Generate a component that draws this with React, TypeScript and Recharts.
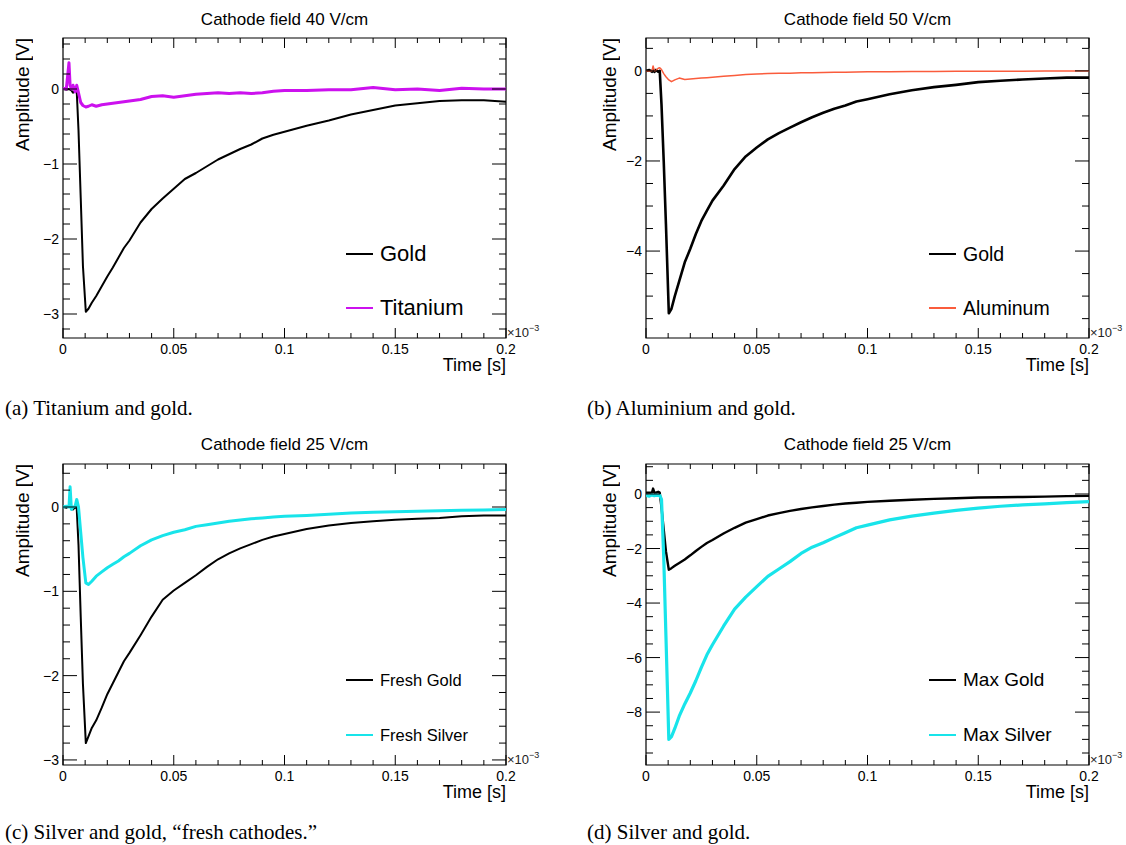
import { LineChart, Line, XAxis, YAxis, ReferenceArea, Legend } from 'recharts'

const SANS = '"Liberation Sans", Arial, Helvetica, sans-serif'
const SERIF = '"Liberation Serif", "Times New Roman", serif'

// time axis, in units of 1e-3 s (shared sampling for all four waveforms)
const TIME = [
  0, 0.0015, 0.0027, 0.0032, 0.0038, 0.0045, 0.0055, 0.0062,
  0.007, 0.008, 0.009, 0.0103, 0.0115, 0.013, 0.015, 0.0175, 0.02, 0.0225, 0.025, 0.0275, 0.03,
  0.035, 0.04, 0.045, 0.05, 0.055, 0.06, 0.065, 0.07, 0.075, 0.08, 0.085, 0.09, 0.095, 0.1,
  0.11, 0.12, 0.13, 0.14, 0.15, 0.16, 0.17, 0.18, 0.19, 0.2
]

// (a) 40 V/cm
const GOLD_A = [
  0, -0.01, 0, -0.01, -0.02, -0.05, -0.02, -0.03,
  -0.55, -1.45, -2.36, -2.97, -2.93, -2.85, -2.76, -2.63, -2.5, -2.38, -2.25, -2.12, -2.02,
  -1.78, -1.6, -1.46, -1.33, -1.2, -1.12, -1.03, -0.94, -0.87, -0.8, -0.74, -0.66, -0.61, -0.57,
  -0.49, -0.42, -0.34, -0.28, -0.22, -0.19, -0.16, -0.15, -0.15, -0.17
]
const TITANIUM_A = [
  0.01, 0, 0.35, 0.05, 0, 0.05, -0.04, 0.05,
  -0.05, -0.18, -0.22, -0.24, -0.23, -0.21, -0.23, -0.21, -0.2, -0.19, -0.18, -0.17, -0.16,
  -0.14, -0.1, -0.09, -0.11, -0.09, -0.07, -0.06, -0.05, -0.06, -0.05, -0.06, -0.05, -0.03, -0.02,
  -0.02, -0.01, -0.01, 0.02, -0.01, 0, -0.02, 0.01, 0, 0
]

// (b) 50 V/cm
const GOLD_B = [
  0, 0.02, -0.02, 0.03, -0.02, 0.02, -0.02, 0,
  -0.75, -2.0, -3.4, -5.38, -5.28, -5.0, -4.67, -4.25, -3.95, -3.62, -3.33, -3.1, -2.88,
  -2.55, -2.18, -1.9, -1.7, -1.52, -1.38, -1.26, -1.14, -1.03, -0.93, -0.84, -0.77, -0.68, -0.63,
  -0.52, -0.43, -0.36, -0.31, -0.25, -0.22, -0.19, -0.17, -0.15, -0.15
]
const ALUMINUM_B = [
  0, -0.01, 0, 0.11, 0, 0.01, 0.06, 0.07,
  0.03, -0.06, -0.13, -0.2, -0.24, -0.2, -0.16, -0.19, -0.18, -0.17, -0.16, -0.15, -0.14,
  -0.12, -0.1, -0.08, -0.07, -0.06, -0.05, -0.05, -0.04, -0.04, -0.035, -0.03, -0.03, -0.025, -0.02,
  -0.02, -0.015, -0.012, -0.01, -0.01, -0.008, -0.006, -0.005, -0.003, 0
]

// (c) 25 V/cm, fresh cathodes
const GOLD_C = [
  0, -0.01, 0.01, 0.02, -0.01, -0.03, 0, -0.02,
  -0.45, -1.3, -2.1, -2.8, -2.72, -2.62, -2.53, -2.38, -2.22, -2.09, -1.96, -1.83, -1.73,
  -1.52, -1.3, -1.1, -0.99, -0.9, -0.81, -0.71, -0.62, -0.55, -0.49, -0.44, -0.39, -0.35, -0.32,
  -0.26, -0.22, -0.19, -0.17, -0.15, -0.14, -0.13, -0.11, -0.1, -0.1
]
const SILVER_C = [
  0, 0.01, 0, 0.24, -0.03, 0, 0.01, 0.09,
  0, -0.3, -0.6, -0.9, -0.92, -0.88, -0.82, -0.77, -0.72, -0.68, -0.64, -0.59, -0.55,
  -0.46, -0.39, -0.34, -0.3, -0.27, -0.23, -0.21, -0.19, -0.17, -0.155, -0.14, -0.13, -0.12, -0.11,
  -0.1, -0.085, -0.07, -0.062, -0.055, -0.05, -0.045, -0.04, -0.035, -0.03
]

// (d) 25 V/cm, max
const GOLD_D = [
  0.05, 0.05, 0.05, 0.2, 0.05, 0.05, 0.08, 0.05,
  -0.5, -1.3, -2.1, -2.78, -2.72, -2.63, -2.53, -2.4, -2.25, -2.09, -1.94, -1.8, -1.69,
  -1.45, -1.24, -1.05, -0.92, -0.79, -0.7, -0.62, -0.55, -0.49, -0.44, -0.39, -0.35, -0.32, -0.29,
  -0.25, -0.21, -0.18, -0.155, -0.13, -0.12, -0.11, -0.095, -0.08, -0.07
]
const SILVER_D = [
  -0.05, -0.08, -0.03, -0.05, -0.06, -0.04, -0.05, -0.05,
  -0.2, -2.3, -5.2, -9.0, -8.9, -8.6, -8.15, -7.7, -7.3, -6.85, -6.36, -5.9, -5.53,
  -4.85, -4.22, -3.78, -3.4, -3.02, -2.75, -2.48, -2.18, -1.95, -1.79, -1.6, -1.42, -1.24, -1.14,
  -0.95, -0.81, -0.7, -0.6, -0.52, -0.45, -0.4, -0.36, -0.32, -0.28
]

const X_MAJOR = [0, 0.05, 0.1, 0.15, 0.2]
const X_MINOR_STEP = 0.01

// reserved sizes of the axis boxes (ticks are drawn by hand inside the frame)
const X_AXIS_H = 30
const Y_AXIS_W = 40

type Series = { name: string; values: number[]; color: string; width: number }
type Panel = {
  box: { x: number; y: number; w: number; h: number }
  frame: { l: number; t: number; r: number; b: number }
  yDomain: [number, number]
  yMajor: number[]
  yMinorStep: number
  title: string
  titleY: number
  yLabelX: number
  caption: string
  captionX: number
  captionY: number
  legend: { x: number; y: number; gap: number; size: number }
  series: Series[]
}

const PANELS: Panel[] = [
  {
    box: { x: 0, y: 0, w: 563, h: 422 },
    frame: { l: 63, t: 38, r: 506, b: 338 },
    yDomain: [-3.32, 0.68], yMajor: [-3, -2, -1, 0], yMinorStep: 0.2,
    title: 'Cathode field 40 V/cm', titleY: 20, yLabelX: 23,
    caption: '(a) Titanium and gold.', captionX: 5, captionY: 408,
    legend: { x: 346, y: 254, gap: 54, size: 22 },
    series: [
      { name: 'Gold', values: GOLD_A, color: '#000000', width: 2 },
      { name: 'Titanium', values: TITANIUM_A, color: '#cc11ee', width: 3 }
    ]
  },
  {
    box: { x: 563, y: 0, w: 563, h: 422 },
    frame: { l: 646, t: 38, r: 1089, b: 338 },
    yDomain: [-5.93, 0.73], yMajor: [-4, -2, 0], yMinorStep: 0.5,
    title: 'Cathode field 50 V/cm', titleY: 20, yLabelX: 610,
    caption: '(b) Aluminium and gold.', captionX: 587, captionY: 408,
    legend: { x: 929, y: 254, gap: 54, size: 19.5 },
    series: [
      { name: 'Gold', values: GOLD_B, color: '#000000', width: 2.6 },
      { name: 'Aluminum', values: ALUMINUM_B, color: '#fa5c3c', width: 1.5 }
    ]
  },
  {
    box: { x: 0, y: 422, w: 563, h: 423 },
    frame: { l: 63, t: 464, r: 506, b: 765 },
    yDomain: [-3.06, 0.51], yMajor: [-3, -2, -1, 0], yMinorStep: 0.2,
    title: 'Cathode field 25 V/cm', titleY: 445, yLabelX: 23,
    caption: '(c) Silver and gold, \u201cfresh cathodes.\u201d', captionX: 5, captionY: 832,
    legend: { x: 346, y: 680, gap: 55, size: 16.5 },
    series: [
      { name: 'Fresh Gold', values: GOLD_C, color: '#000000', width: 2 },
      { name: 'Fresh Silver', values: SILVER_C, color: '#18e4ea', width: 3 }
    ]
  },
  {
    box: { x: 563, y: 422, w: 563, h: 423 },
    frame: { l: 646, t: 464, r: 1089, b: 765 },
    yDomain: [-9.94, 1.1], yMajor: [-8, -6, -4, -2, 0], yMinorStep: 0.5,
    title: 'Cathode field 25 V/cm', titleY: 445, yLabelX: 610,
    caption: '(d) Silver and gold.', captionX: 587, captionY: 832,
    legend: { x: 929, y: 680, gap: 55, size: 19 },
    series: [
      { name: 'Max Gold', values: GOLD_D, color: '#000000', width: 2.4 },
      { name: 'Max Silver', values: SILVER_D, color: '#18e4ea', width: 3.2 }
    ]
  }
]

function steps(min: number, max: number, step: number) {
  const out: number[] = []
  for (let k = Math.ceil(min / step - 1e-9); k * step <= max + 1e-9; k++) {
    out.push(Math.round(k * step * 1e6) / 1e6)
  }
  return out
}

const isOn = (v: number, list: number[]) => list.some(m => Math.abs(m - v) < 1e-6)
const fmt = (v: number) => (v < 0 ? '\u2212' + Math.abs(v) : String(v))

function PanelChart({ p }: { p: Panel }) {
  const { box, frame } = p
  const fw = frame.r - frame.l
  const fh = frame.b - frame.t
  const data = TIME.map((t, i) => {
    const row: Record<string, number> = { t }
    p.series.forEach((s, k) => { row['s' + k] = s.values[i] })
    return row
  })
  const xTicks = steps(0, 0.2, X_MINOR_STEP)
  const yTicks = steps(p.yDomain[0], p.yDomain[1], p.yMinorStep)

  const xTick = (props: any) => {
    const { x, y, payload } = props
    const major = isOn(payload.value, X_MAJOR)
    const len = major ? 10 : 5
    return (
      <g>
        <line x1={x} x2={x} y1={y} y2={y - len} stroke="#000" />
        <line x1={x} x2={x} y1={y - fh} y2={y - fh + len} stroke="#000" />
        {major && (
          <text x={x} y={y + 11} textAnchor="middle" dominantBaseline="central"
            fontSize={14} fontFamily={SANS} fill="#000">{payload.value}</text>
        )}
      </g>
    )
  }

  const yTick = (props: any) => {
    const { x, y, payload } = props
    const major = isOn(payload.value, p.yMajor)
    const len = major ? 14 : 7
    return (
      <g>
        <line x1={x} x2={x + len} y1={y} y2={y} stroke="#000" />
        <line x1={x + fw} x2={x + fw - len} y1={y} y2={y} stroke="#000" />
        {major && (
          <text x={x - 4} y={y} textAnchor="end" dominantBaseline="central"
            fontSize={14} fontFamily={SANS} fill="#000">{fmt(payload.value)}</text>
        )}
      </g>
    )
  }

  const order = (name: string) => p.series.findIndex(s => s.name === name)
  const legend = (props: any) => {
    const items = [...(props.payload || [])].sort((a: any, b: any) => order(a.value) - order(b.value))
    return (
      <div style={{ fontFamily: SANS, fontSize: p.legend.size, color: '#000' }}>
        {items.map((e: any) => (
          <div key={e.value} style={{ display: 'flex', alignItems: 'center', height: p.legend.gap, whiteSpace: 'nowrap' }}>
            <svg width={27} height={4} style={{ display: 'block' }}>
              <line x1={0} x2={27} y1={2} y2={2} stroke={e.color} strokeWidth={2} />
            </svg>
            <span style={{ marginLeft: 7 }}>{e.value}</span>
          </div>
        ))}
      </div>
    )
  }

  return (
    <div style={{ position: 'absolute', left: box.x, top: box.y }}>
      <LineChart
        width={box.w}
        height={box.h}
        data={data}
        margin={{
          top: frame.t - box.y,
          left: frame.l - box.x - Y_AXIS_W,
          right: box.x + box.w - frame.r,
          bottom: box.y + box.h - frame.b - X_AXIS_H
        }}
      >
        <XAxis dataKey="t" type="number" domain={[0, 0.2]} allowDataOverflow ticks={xTicks} interval={0}
          height={X_AXIS_H} tickSize={0} tickMargin={0} axisLine={false} tickLine={false} tick={xTick} />
        <YAxis type="number" domain={p.yDomain} allowDataOverflow ticks={yTicks} interval={0}
          width={Y_AXIS_W} tickSize={0} tickMargin={0} axisLine={false} tickLine={false} tick={yTick} />
        {p.series.map((s, k) => (
          <Line key={s.name} dataKey={'s' + k} name={s.name} type="linear" stroke={s.color}
            strokeWidth={s.width} strokeLinejoin="round" dot={false} legendType="line" isAnimationActive={false} />
        ))}
        <ReferenceArea x1={0} x2={0.2} y1={p.yDomain[0]} y2={p.yDomain[1]} fill="none" fillOpacity={0}
          stroke="#000" strokeWidth={1.2} />
        <Legend layout="vertical" align="center" verticalAlign="middle" content={legend}
          wrapperStyle={{ left: p.legend.x - box.x, top: p.legend.y - p.legend.gap / 2 - box.y, width: 'auto' }} />
      </LineChart>
    </div>
  )
}

function PanelText({ p }: { p: Panel }) {
  const { frame } = p
  return (
    <>
      <div style={{ position: 'absolute', left: (frame.l + frame.r) / 2, top: p.titleY, transform: 'translate(-50%, -50%)',
        fontFamily: SANS, fontSize: 17, whiteSpace: 'nowrap' }}>{p.title}</div>
      <div style={{ position: 'absolute', left: p.yLabelX - 11, top: frame.t, width: 22, lineHeight: '22px',
        writingMode: 'vertical-rl', transform: 'rotate(180deg)', fontFamily: SANS, fontSize: 19, whiteSpace: 'nowrap' }}>
        Amplitude [V]
      </div>
      <div style={{ position: 'absolute', left: frame.r, top: frame.b + 27, transform: 'translate(-100%, -50%)',
        fontFamily: SANS, fontSize: 18, whiteSpace: 'nowrap' }}>Time [s]</div>
      <div style={{ position: 'absolute', left: frame.r + 1, top: frame.b - 6, transform: 'translateY(-50%)',
        fontFamily: SANS, fontSize: 13, whiteSpace: 'nowrap', color: '#222' }}>
        {'\u00d710'}<span style={{ fontSize: 9, position: 'relative', top: -6 }}>{'\u22123'}</span>
      </div>
      <div style={{ position: 'absolute', left: p.captionX, top: p.captionY, transform: 'translateY(-50%)',
        fontFamily: SERIF, fontSize: 21, whiteSpace: 'nowrap' }}>{p.caption}</div>
    </>
  )
}

export default function App() {
  return (
    <div style={{ position: 'absolute', left: 0, top: 0, width: 1126, height: 845, background: '#fff', overflow: 'hidden' }}>
      {PANELS.map((p, i) => <PanelChart key={i} p={p} />)}
      {PANELS.map((p, i) => <PanelText key={'t' + i} p={p} />)}
    </div>
  )
}
